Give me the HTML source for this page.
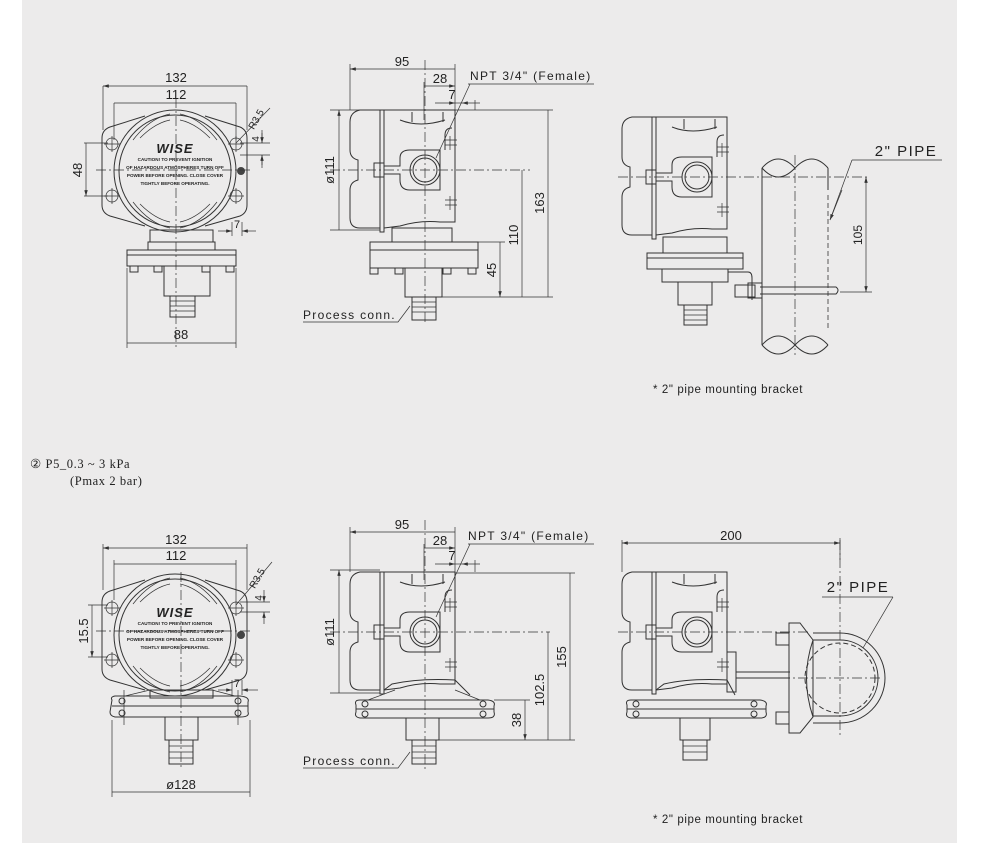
<!DOCTYPE html>
<html><head><meta charset="utf-8"><style>
html,body{margin:0;padding:0;background:#fff}
svg{display:block}
text{font-family:"Liberation Sans","DejaVu Sans",sans-serif;fill:#222}
.s{fill:none;stroke:#333;stroke-width:1}
.t{fill:none;stroke:#333;stroke-width:.7}
.c{fill:none;stroke:#333;stroke-width:.7;stroke-dasharray:10 3 2 3}
.d{fill:none;stroke:#333;stroke-width:.8;stroke-dasharray:5 3}
.serif{font-family:"Liberation Serif","DejaVu Serif",serif}
</style></head><body>
<svg width="1001" height="843" viewBox="0 0 1001 843" xmlns="http://www.w3.org/2000/svg">
<defs>
<marker id="a" viewBox="0 0 10 6" refX="10" refY="3" markerWidth="9" markerHeight="5" orient="auto-start-reverse"><path d="M0,0L10,3L0,6z" fill="#333"/></marker>
<g id="front">
  <path class="s" d="M145,116 L110,127 Q102,130 102,138 V205 Q102,213 110,216 L145,226 M205,116 L240,127 Q247,130 247,138 V205 Q247,213 240,216 L205,226"/>
  <circle cx="175" cy="171" r="61" fill="#ecebeb" stroke="#333" stroke-width="1"/>
  <circle class="s" cx="175" cy="171" r="56"/>
  <path class="t" d="M133,140 Q150,118 170,114 M217,140 Q200,118 180,114 M133,202 Q150,224 170,228 M217,202 Q200,224 180,228"/>
  <path class="t" d="M140,138 Q155,123 170,120 M210,138 Q195,123 180,120 M140,204 Q155,219 170,222 M210,204 Q195,219 180,222"/>
  <g class="t">
   <circle cx="112" cy="144" r="6"/><circle cx="236" cy="144" r="6"/><circle cx="112" cy="196" r="6"/><circle cx="236" cy="196" r="6"/>
   <path d="M104,144h16M112,136v16M228,144h16M236,136v16M104,196h16M112,188v16M228,196h16M236,188v16"/>
  </g>
  <circle cx="241" cy="171" r="4" fill="#444"/>
  <text x="175" y="153" font-size="13" font-weight="bold" font-style="italic" text-anchor="middle" letter-spacing="1">WISE</text>
  <g font-size="4.6" font-weight="bold" text-anchor="middle">
   <text x="175" y="161">CAUTION! TO PREVENT IGNITION</text>
   <text x="175" y="169">OF HAZARDOUS ATMOSPHERES TURN OFF</text>
   <text x="175" y="177">POWER BEFORE OPENING.  CLOSE COVER</text>
   <text x="175" y="185">TIGHTLY BEFORE OPERATING.</text>
  </g>
</g>
<g id="side">
  <path class="s" d="M380,110 L360,110 Q350,112 350,122 L350,150 Q350,158 358,160 L358,180 Q350,182 350,190 L350,218 Q350,228 360,228 L380,228"/>
  <rect class="s" x="380" y="110" width="4" height="122"/>
  <path class="s" d="M384,110 H455 V222 H440 Q420,220 400,226 L384,228"/>
  <path class="s" d="M412,112 V122 M443,112 V122 M400,120 Q420,128 445,120 M445,150 L445,135 Q445,128 452,128"/>
  <path class="s" d="M384,166 H400 V158 Q400,150 410,150 H440 V190 H410 Q400,190 400,180 V174 H384"/>
  <circle class="s" cx="425" cy="170" r="15"/><circle class="s" cx="425" cy="170" r="12"/>
  <rect class="s" x="374" y="163" width="10" height="14"/>
  <path class="t" d="M445,140 h12 M445,145 h12 M450,136 v14 M445,200 h12 M445,205 h12 M450,196 v14"/>
</g>
</defs>
<rect x="22" y="0" width="935" height="843" fill="#ecebeb"/>

<!-- ========== TOP FRONT ========== -->
<use href="#front"/>
<g class="s">
 <rect x="150" y="230" width="63" height="12"/>
 <rect x="148" y="242" width="67" height="8"/>
 <rect x="127" y="250" width="109" height="16"/>
 <path d="M127,255 H236"/>
 <rect x="164" y="266" width="46" height="30"/>
 <rect x="170" y="296" width="25" height="21"/>
 <path class="t" d="M170,301h25M170,306h25M170,311h25"/>
 <path d="M130,266h8v6h-8zM154,266h8v6h-8zM202,266h8v6h-8zM226,266h8v6h-8z"/>
</g>
<g class="t">
 <path d="M103,86V130M247,86V130M114,103V140M236,103V140M127,268V348M236,268V348M84,143H108M84,196H108"/>
 <path marker-start="url(#a)" marker-end="url(#a)" d="M103,86H247M114,103H236M127,343H236M86,143V196"/>
 <path d="M236,143 L270,108"/>
 <path d="M240,143H270M240,155H270M262,133V143M262,165V155M232,222V236M242,222V236"/>
 <path marker-end="url(#a)" d="M262,130V143"/><path marker-end="url(#a)" d="M262,168V155"/>
 <path marker-end="url(#a)" d="M218,231H232"/><path marker-end="url(#a)" d="M256,231H242"/>
</g>
<path class="c" d="M176,98V350M96,170H252"/>
<g font-size="13" text-anchor="middle">
 <text x="176" y="82">132</text><text x="176" y="99">112</text><text x="181" y="339">88</text>
 <text transform="translate(82,170) rotate(-90)" text-anchor="middle">48</text>
 <text transform="translate(259,121) rotate(-60)" font-size="10" text-anchor="middle">R3.5</text>
 <text transform="translate(259,139) rotate(-90)" font-size="10" text-anchor="middle">4</text>
 <text x="237" y="228" font-size="11">7</text>
</g>

<!-- ========== TOP SIDE ========== -->
<use href="#side"/>
<g class="s">
 <rect x="392" y="228" width="60" height="14"/>
 <rect x="370" y="242" width="108" height="8"/>
 <rect x="370" y="250" width="108" height="18"/>
 <rect x="405" y="268" width="37" height="29"/>
 <rect x="412" y="297" width="24" height="23"/>
 <path class="t" d="M412,302h24M412,307h24M412,312h24"/>
 <path d="M370,268h8v6h-8zM395,268h8v6h-8zM443,268h8v6h-8zM468,268h8v6h-8z"/>
</g>
<path class="c" d="M425,60V325M330,170H530"/>
<g class="t">
 <path d="M350,64V110M455,64V110M424,82V120M475,100V110"/>
 <path marker-start="url(#a)" marker-end="url(#a)" d="M350,69H455M424,86H455"/>
 <path marker-end="url(#a)" d="M435,103H455"/><path marker-end="url(#a)" d="M480,103H462"/><path d="M455,103h7"/>
 <path d="M468,84H594M470,84 L436,158"/>
 <path d="M330,110H380M330,230H380M455,110H553M442,297H553M455,242H505"/>
 <path marker-start="url(#a)" marker-end="url(#a)" d="M339,110V230M548,110V297M522,170V297M500,242V297"/>
 <path d="M303,322H398L410,306"/>
</g>
<g font-size="13" text-anchor="middle">
 <text x="402" y="66">95</text><text x="440" y="83">28</text><text x="452" y="99">7</text>
 <text x="470" y="80" text-anchor="start" font-size="12" letter-spacing="1.3">NPT 3/4" (Female)</text>
 <text transform="translate(334,170) rotate(-90)">ø111</text>
 <text transform="translate(544,203) rotate(-90)">163</text>
 <text transform="translate(518,235) rotate(-90)">110</text>
 <text transform="translate(496,270) rotate(-90)">45</text>
 <text x="303" y="319" text-anchor="start" font-size="12" letter-spacing="1.3">Process conn.</text>
</g>

<!-- ========== TOP RIGHT ========== -->
<use href="#side" transform="translate(272,7)"/>
<g class="s">
 <rect x="663" y="237" width="64" height="16"/>
 <rect x="647" y="253" width="96" height="16"/>
 <path d="M647,258H743"/>
 <rect x="662" y="269" width="66" height="13"/>
 <rect x="678" y="282" width="34" height="23"/>
 <rect x="684" y="305" width="23" height="20"/>
 <path class="t" d="M684,310h23M684,315h23M684,320h23"/>
 <path d="M728,272H748Q752,272 752,278V300"/>
 <rect x="735" y="285" width="20" height="12"/><rect x="748" y="283" width="14" height="15"/>
 <path d="M760,287H836Q840,290 836,294H760"/>
</g>
<path class="s" d="M762,168 V345 M828,168 V190" />
<path class="d" d="M762,200V330M828,195V330"/>
<path class="s" d="M762,168 Q778,150 795,168 Q812,150 828,168 M762,168 Q778,186 795,168 M762,345 Q778,327 795,345 Q812,327 828,345 M762,345 Q778,363 795,345 Q812,363 828,345"/>
<path class="c" d="M795,155V355M618,177H870"/>
<g class="t">
 <path d="M840,292H872"/>
 <path marker-start="url(#a)" marker-end="url(#a)" d="M866,177V292"/>
 <path d="M852,160H942M852,160 L830,220"/><path marker-end="url(#a)" d="M842,190L830,220"/>
</g>
<g font-size="13" text-anchor="middle">
 <text x="906" y="156" font-size="15" letter-spacing="1.5">2" PIPE</text>
 <text transform="translate(862,235) rotate(-90)" font-size="12">105</text>
 <text x="653" y="393" text-anchor="start" font-size="11.5" letter-spacing="0.6">* 2" pipe mounting bracket</text>
</g>

<!-- label -->
<text x="30" y="468" font-size="12.5" class="serif" letter-spacing="0.6">② P5_0.3 ~ 3 kPa</text>
<text x="70" y="485" font-size="12.5" class="serif" letter-spacing="0.6">(Pmax 2 bar)</text>

<!-- ========== BOTTOM FRONT ========== -->
<use href="#front" transform="translate(0,464)"/>
<g class="s">
 <rect x="150" y="690" width="63" height="8"/>
 <path d="M112,700 Q110,697 115,696 L240,696 Q250,697 248,702 L248,712 Q250,717 240,717 L115,717 Q110,716 110,712 Z M112,706H248"/>
 <path class="t" d="M125,696 L150,690 M212,690 L235,696"/>
 <rect x="165" y="717" width="33" height="23"/>
 <rect x="169" y="740" width="24" height="24"/>
 <path class="t" d="M169,746h24M169,752h24M169,758h24"/>
 <circle cx="122" cy="701" r="3"/><circle cx="122" cy="713" r="3"/><circle cx="238" cy="701" r="3"/><circle cx="238" cy="713" r="3"/>
</g>
<g class="t">
 <path d="M103,544V590M247,544V590M114,560V600M236,560V600M112,720V797M250,720V797M88,605H108M88,657H108M124,690V725M238,690V725"/>
 <path marker-start="url(#a)" marker-end="url(#a)" d="M103,548H247M114,564H236M112,792H250M92,605V657"/>
 <path d="M236,605 L272,562M240,602H270M240,612H270M232,680V695M242,680V695"/>
 <path marker-end="url(#a)" d="M264,590V602"/><path marker-end="url(#a)" d="M264,624V612"/>
 <path marker-end="url(#a)" d="M218,690H232"/><path marker-end="url(#a)" d="M258,690H242"/>
</g>
<path class="c" d="M181,572V770M96,631H252"/>
<g font-size="13" text-anchor="middle">
 <text x="176" y="544">132</text><text x="176" y="560">112</text><text x="181" y="789">ø128</text>
 <text transform="translate(88,631) rotate(-90)">15.5</text>
 <text transform="translate(260,580) rotate(-60)" font-size="10">R3.5</text>
 <text transform="translate(262,598) rotate(-90)" font-size="10">4</text>
 <text x="237" y="687" font-size="11">7</text>
</g>

<!-- ========== BOTTOM SIDE ========== -->
<use href="#side" transform="translate(0,462)"/>
<g class="s">
 <path d="M384,690 L392,684 Q420,678 455,680 L470,695"/>
 <path d="M356,705 Q354,700 360,700 L488,700 Q496,701 494,706 L494,712 Q496,718 488,718 L360,718 Q354,717 356,712 Z M356,709H494"/>
 <path class="t" d="M368,700 L395,690 M480,700 L455,690"/>
 <circle cx="365" cy="704" r="3"/><circle cx="365" cy="714" r="3"/><circle cx="483" cy="704" r="3"/><circle cx="483" cy="714" r="3"/>
 <rect x="406" y="718" width="33" height="22"/>
 <rect x="412" y="740" width="24" height="24"/>
 <path class="t" d="M412,746h24M412,752h24M412,758h24"/>
</g>
<path class="c" d="M425,520V770M330,632H550"/>
<g class="t">
 <path d="M350,527V572M455,527V572M424,544V580M475,560V572"/>
 <path marker-start="url(#a)" marker-end="url(#a)" d="M350,532H455M424,548H455"/>
 <path marker-end="url(#a)" d="M435,564H455"/><path marker-end="url(#a)" d="M480,564H462"/><path d="M455,564h7"/>
 <path d="M468,544H594M470,544 L436,617"/>
 <path d="M330,570H380M330,693H380M455,573H575M439,740H575M494,700H530"/>
 <path marker-start="url(#a)" marker-end="url(#a)" d="M339,570V693M570,573V740M548,632V740M525,700V740"/>
 <path d="M303,768H398L410,752"/>
</g>
<g font-size="13" text-anchor="middle">
 <text x="402" y="529">95</text><text x="440" y="545">28</text><text x="452" y="560">7</text>
 <text x="468" y="540" text-anchor="start" font-size="12" letter-spacing="1.3">NPT 3/4" (Female)</text>
 <text transform="translate(334,632) rotate(-90)">ø111</text>
 <text transform="translate(566,657) rotate(-90)">155</text>
 <text transform="translate(544,690) rotate(-90)">102.5</text>
 <text transform="translate(521,720) rotate(-90)">38</text>
 <text x="303" y="765" text-anchor="start" font-size="12" letter-spacing="1.3">Process conn.</text>
</g>

<!-- ========== BOTTOM RIGHT ========== -->
<use href="#side" transform="translate(272,462)"/>
<g class="s">
 <path d="M656,690 L664,684 Q690,678 727,680 L735,695"/>
 <path d="M627,705 Q625,700 631,700 L760,700 Q768,701 766,706 L766,712 Q768,718 760,718 L631,718 Q625,717 627,712 Z M627,709H766"/>
 <circle cx="636" cy="704" r="3"/><circle cx="636" cy="714" r="3"/><circle cx="754" cy="704" r="3"/><circle cx="754" cy="714" r="3"/>
 <rect x="680" y="718" width="30" height="22"/>
 <rect x="683" y="740" width="24" height="20"/>
 <path class="t" d="M683,746h24M683,752h24"/>
 <rect x="727" y="652" width="9" height="40"/>
 <path d="M736,672H790M736,678H790"/>
 <path d="M789,623 H800 L813,640 V717 L800,733 H789 Z"/>
 <path d="M813,640 Q800,678 813,717"/>
 <path d="M813,633 H840 A45,45 0 0 1 840,723 H813 M813,640 H840 A38,38 0 0 1 840,716 H813"/>
 <circle cx="840" cy="678" r="35" stroke-dasharray="5 3"/>
 <rect x="776" y="633" width="13" height="12"/><rect x="776" y="712" width="13" height="12"/>
</g>
<path class="c" d="M840,540V735M618,632H810M780,678H880"/>
<g class="t">
 <path d="M622,540V572M840,538V560"/>
 <path marker-start="url(#a)" marker-end="url(#a)" d="M622,543H840"/>
 <path d="M822,597H893M893,597 L863,648"/>
</g>
<g font-size="13" text-anchor="middle">
 <text x="731" y="540" font-size="13">200</text>
 <text x="858" y="592" font-size="15" letter-spacing="1.5">2" PIPE</text>
 <text x="653" y="823" text-anchor="start" font-size="11.5" letter-spacing="0.6">* 2" pipe mounting bracket</text>
</g>
</svg>
</body></html>
